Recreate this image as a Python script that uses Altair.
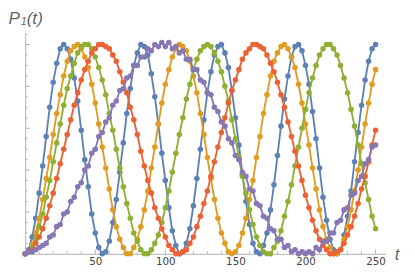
import altair as alt
import pandas as pd

# sample times
t = [0, 2.5, 5, 7.5, 10, 12.5, 15, 17.5, 20, 22.5,
     25, 27.5, 30, 32.5, 35, 37.5, 40, 42.5, 45, 47.5,
     50, 52.5, 55, 57.5, 60, 62.5, 65, 67.5, 70, 72.5,
     75, 77.5, 80, 82.5, 85, 87.5, 90, 92.5, 95, 97.5,
     100, 102.5, 105, 107.5, 110, 112.5, 115, 117.5, 120, 122.5,
     125, 127.5, 130, 132.5, 135, 137.5, 140, 142.5, 145, 147.5,
     150, 152.5, 155, 157.5, 160, 162.5, 165, 167.5, 170, 172.5,
     175, 177.5, 180, 182.5, 185, 187.5, 190, 192.5, 195, 197.5,
     200, 202.5, 205, 207.5, 210, 212.5, 215, 217.5, 220, 222.5,
     225, 227.5, 230, 232.5, 235, 237.5, 240, 242.5, 245, 247.5,
     250]

blue = [0.00, 0.02, 0.08, 0.17, 0.29, 0.42, 0.56, 0.70, 0.82, 0.91,
        0.98, 1.00, 0.98, 0.93, 0.84, 0.73, 0.59, 0.45, 0.32, 0.19,
        0.10, 0.03, 0.00, 0.01, 0.06, 0.15, 0.26, 0.39, 0.53, 0.67,
        0.79, 0.90, 0.96, 1.00, 0.99, 0.95, 0.86, 0.75, 0.62, 0.48,
        0.35, 0.22, 0.11, 0.04, 0.00, 0.01, 0.05, 0.12, 0.23, 0.36,
        0.50, 0.64, 0.77, 0.87, 0.95, 0.99, 1.00, 0.96, 0.89, 0.78,
        0.65, 0.52, 0.38, 0.25, 0.14, 0.05, 0.01, 0.00, 0.04, 0.10,
        0.21, 0.33, 0.47, 0.61, 0.74, 0.85, 0.94, 0.99, 1.00, 0.97,
        0.90, 0.81, 0.68, 0.55, 0.41, 0.27, 0.16, 0.07, 0.02, 0.00,
        0.02, 0.09, 0.18, 0.30, 0.44, 0.58, 0.71, 0.83, 0.92, 0.98,
        1.00]

orange = [0.00, 0.01, 0.04, 0.10, 0.17, 0.26, 0.36, 0.46, 0.57, 0.67,
          0.76, 0.85, 0.92, 0.97, 0.99, 1.00, 0.98, 0.94, 0.89, 0.81,
          0.72, 0.62, 0.51, 0.41, 0.31, 0.21, 0.13, 0.07, 0.03, 0.00,
          0.00, 0.03, 0.07, 0.13, 0.21, 0.30, 0.41, 0.51, 0.62, 0.72,
          0.81, 0.88, 0.94, 0.98, 1.00, 0.99, 0.97, 0.92, 0.85, 0.77,
          0.67, 0.57, 0.46, 0.36, 0.26, 0.17, 0.10, 0.05, 0.01, 0.00,
          0.01, 0.04, 0.10, 0.17, 0.26, 0.35, 0.46, 0.56, 0.67, 0.76,
          0.85, 0.92, 0.96, 0.99, 1.00, 0.98, 0.94, 0.89, 0.81, 0.72,
          0.62, 0.52, 0.41, 0.31, 0.21, 0.13, 0.07, 0.03, 0.00, 0.00,
          0.02, 0.07, 0.13, 0.21, 0.30, 0.40, 0.51, 0.62, 0.72, 0.81,
          0.88]

green = [0.00, 0.01, 0.03, 0.07, 0.13, 0.19, 0.27, 0.35, 0.44, 0.53,
         0.62, 0.71, 0.79, 0.85, 0.91, 0.96, 0.99, 1.00, 1.00, 0.98,
         0.94, 0.89, 0.83, 0.76, 0.67, 0.59, 0.50, 0.41, 0.32, 0.24,
         0.17, 0.10, 0.06, 0.02, 0.00, 0.00, 0.02, 0.05, 0.09, 0.15,
         0.22, 0.30, 0.39, 0.48, 0.57, 0.65, 0.74, 0.81, 0.88, 0.93,
         0.97, 0.99, 1.00, 0.99, 0.96, 0.92, 0.87, 0.80, 0.73, 0.64,
         0.55, 0.46, 0.37, 0.29, 0.21, 0.14, 0.08, 0.04, 0.01, 0.00,
         0.00, 0.03, 0.06, 0.11, 0.18, 0.25, 0.33, 0.42, 0.51, 0.60,
         0.69, 0.77, 0.84, 0.90, 0.95, 0.98, 1.00, 1.00, 0.98, 0.95,
         0.90, 0.84, 0.77, 0.69, 0.61, 0.52, 0.43, 0.34, 0.26, 0.18,
         0.12]

red = [0.00, 0.01, 0.02, 0.05, 0.08, 0.12, 0.17, 0.23, 0.29, 0.36,
       0.43, 0.50, 0.57, 0.64, 0.71, 0.77, 0.83, 0.88, 0.92, 0.96,
       0.98, 1.00, 1.00, 0.99, 0.98, 0.95, 0.92, 0.87, 0.82, 0.77,
       0.70, 0.64, 0.57, 0.49, 0.42, 0.35, 0.29, 0.22, 0.17, 0.12,
       0.08, 0.04, 0.02, 0.00, 0.00, 0.01, 0.02, 0.05, 0.08, 0.13,
       0.18, 0.24, 0.30, 0.37, 0.44, 0.51, 0.58, 0.65, 0.72, 0.78,
       0.83, 0.88, 0.93, 0.96, 0.98, 1.00, 1.00, 0.99, 0.98, 0.95,
       0.91, 0.87, 0.82, 0.76, 0.70, 0.63, 0.56, 0.49, 0.42, 0.35,
       0.28, 0.22, 0.16, 0.11, 0.07, 0.04, 0.02, 0.00, 0.00, 0.01,
       0.02, 0.05, 0.09, 0.13, 0.18, 0.24, 0.31, 0.37, 0.44, 0.52,
       0.59]

purple = [0.00, 0.01, 0.01, 0.02, 0.03, 0.04, 0.05, 0.08, 0.09, 0.13,
          0.14, 0.19, 0.20, 0.25, 0.27, 0.32, 0.34, 0.40, 0.42, 0.48,
          0.50, 0.56, 0.58, 0.63, 0.65, 0.71, 0.73, 0.78, 0.79, 0.84,
          0.85, 0.90, 0.90, 0.94, 0.94, 0.98, 0.97, 1.00, 0.99, 1.01,
          0.99, 1.01, 0.98, 0.99, 0.96, 0.97, 0.93, 0.93, 0.88, 0.88,
          0.83, 0.82, 0.77, 0.76, 0.70, 0.68, 0.63, 0.61, 0.55, 0.53,
          0.47, 0.45, 0.39, 0.37, 0.31, 0.30, 0.24, 0.23, 0.18, 0.17,
          0.12, 0.11, 0.07, 0.07, 0.03, 0.04, 0.01, 0.02, 0.00, 0.01,
          0.00, 0.01, 0.00, 0.03, 0.02, 0.06, 0.06, 0.10, 0.10, 0.15,
          0.16, 0.21, 0.22, 0.28, 0.29, 0.35, 0.37, 0.43, 0.45, 0.51,
          0.52]

series = [("blue", blue, "#5E81B5"), ("orange", orange, "#E19C24"),
          ("green", green, "#8FB032"), ("red", red, "#EB6235"),
          ("purple", purple, "#8778B3")]

x_major = [50, 100, 150, 200, 250]
x_minor = [10, 20, 30, 40, 60, 70, 80, 90, 110, 120, 130, 140,
           160, 170, 180, 190, 210, 220, 230, 240]
y_major = [0.2, 0.4, 0.6, 0.8, 1.0]
y_minor = [0.05, 0.1, 0.15, 0.25, 0.3, 0.35, 0.45, 0.5, 0.55, 0.65,
           0.7, 0.75, 0.85, 0.9, 0.95, 1.05]

W, H = 367, 225
AXC = "#b3b3b3"
xs = alt.Scale(domain=[0, 257], nice=False, zero=False)
ys = alt.Scale(domain=[0, 1.055], nice=False, zero=False)
xaxis = alt.Axis(values=x_major, ticks=False, grid=False, title=None,
                 domainColor=AXC, domainWidth=1, labelColor="#444444",
                 labelFontSize=10.5, labelFont="DejaVu Sans", labelPadding=3)
yaxis = alt.Axis(labels=False, ticks=False, grid=False, title=None,
                 domainColor=AXC, domainWidth=1)

layers = []
for name, vals, col in series:
    df = pd.DataFrame({"t": t, "p": vals})
    layers.append(
        alt.Chart(df).mark_line(color=col, strokeWidth=1.9,
                                point=alt.OverlayMarkDef(filled=True, size=32, color=col, opacity=1))
        .encode(x=alt.X("t:Q", scale=xs, axis=xaxis),
                y=alt.Y("p:Q", scale=ys, axis=yaxis))
    )

def xticks(vals, length):
    return alt.Chart(pd.DataFrame({"v": vals})).mark_rule(color=AXC, strokeWidth=1).encode(
        x=alt.X("v:Q", scale=xs, axis=xaxis), y=alt.value(H), y2=alt.value(H - length))

def yticks(vals, length):
    return alt.Chart(pd.DataFrame({"v": vals})).mark_rule(color=AXC, strokeWidth=1).encode(
        y=alt.Y("v:Q", scale=ys, axis=yaxis), x=alt.value(0), x2=alt.value(length))

ticks = [xticks(x_major, 4.5), xticks(x_minor, 2.5), yticks(y_major, 4.5), yticks(y_minor, 2.5)]

def label(s, x, y, size):
    return alt.Chart(pd.DataFrame({"s": [s]})).mark_text(
        align="left", baseline="alphabetic", fontStyle="italic", font="Liberation Sans",
        fontSize=size, color="#666666").encode(text="s:N", x=alt.value(x), y=alt.value(y))

texts = [label("P", -17, -9.5, 17.5), label("1", -4.5, -8.5, 11),
         label("(t)", 1.5, -9.5, 17.5), label("t", 376.5, 231, 17)]

chart = alt.layer(*ticks, *layers, *texts).properties(
    width=W, height=H,
    padding={"left": 17.5, "top": 23, "right": 22, "bottom": 14},
    autosize=alt.AutoSizeParams(type="none"),
).configure_view(stroke=None)

chart.save("out.html", embed_options={"renderer": "svg", "actions": False})
